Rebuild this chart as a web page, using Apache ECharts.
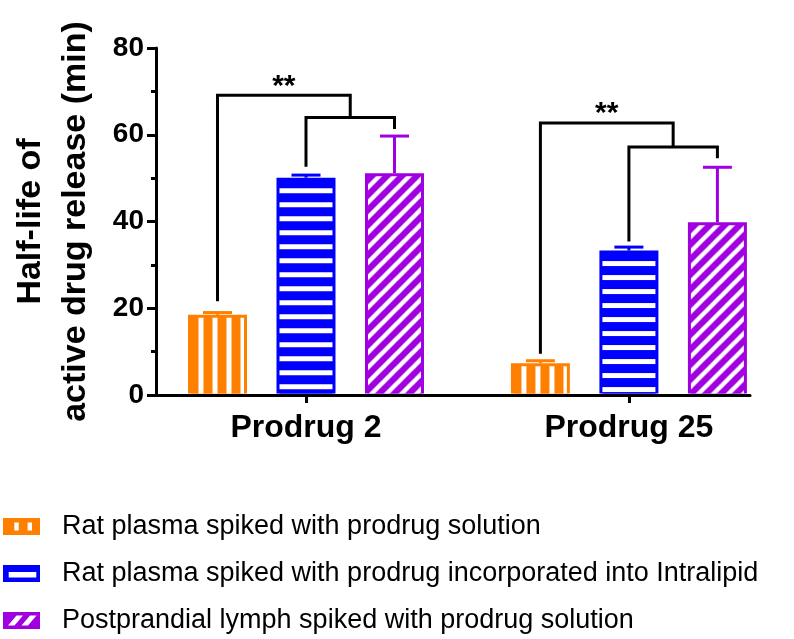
<!DOCTYPE html>
<html><head><meta charset="utf-8">
<script src="https://cdn.jsdelivr.net/npm/echarts@6/dist/echarts.min.js"></script>
<style>html,body{margin:0;padding:0;background:#fff}#c{width:794px;height:639px}</style>
</head><body><div id="c"></div>
<script>
// ---------- data ----------
const categories = ['Prodrug 2', 'Prodrug 25'];
const seriesNames = [
  'Rat plasma spiked with prodrug solution',
  'Rat plasma spiked with prodrug incorporated into Intralipid',
  'Postprandial lymph spiked with prodrug solution'
];
const plasmaSolution = [18.5, 7.3];
const plasmaSolutionErr = [0.5, 0.6];
const plasmaIntralipid = [50.1, 33.3];
const plasmaIntralipidErr = [0.6, 0.8];
const lymphSolution = [51.1, 39.8];
const lymphSolutionErr = [8.6, 12.7];
// significance brackets (value levels)
const sigOuterLevel = [69.1, 62.7];
const sigInnerLevel = [64.0, 57.2];
const sigLegOrange = [21.6, 9.5];
const sigLegBlue = [52.6, 35.4];
const sigLegPurple = [61.3, 54.6];
const sigLabels = ['**', '**'];
const yTicks = [0, 20, 40, 60, 80];

// ---------- style ----------
const ORANGE = '#FF8000', BLUE = '#0000FF', PURPLE = '#A000E0';
const FONT = "'Liberation Sans', Arial, Helvetica, sans-serif";
const BAR_W = 59, BAR_STEP = 88.5, BORDER = 3, CAP_W = 29, LINE_W = 3;

function tileCanvas(kind, color) {
  const P = kind === 'd' ? 15 : 14;
  const c = document.createElement('canvas');
  c.width = P; c.height = P;
  const g = c.getContext('2d');
  g.fillStyle = color; g.fillRect(0, 0, P, P);
  g.fillStyle = '#fff';
  if (kind === 'v') g.fillRect(0, 0, 5, P);
  else if (kind === 'h') g.fillRect(0, 0, P, 5);
  else {
    g.strokeStyle = '#fff'; g.lineWidth = 4.4; g.lineCap = 'square';
    g.beginPath();
    g.moveTo(0, P); g.lineTo(P, 0);
    g.moveTo(-P, P); g.lineTo(P, -P);
    g.moveTo(0, 2 * P); g.lineTo(2 * P, 0);
    g.stroke();
  }
  return c;
}

function legendIcon(kind, color) {
  const c = document.createElement('canvas');
  c.width = 54; c.height = 17;
  const g = c.getContext('2d');
  g.fillStyle = color; g.fillRect(0, 0, 37, 17);
  g.fillStyle = '#fff';
  if (kind === 'v') { g.fillRect(11.3, 4.5, 4.4, 8); g.fillRect(24.6, 4.5, 4.4, 8); }
  else if (kind === 'h') { g.fillRect(5.7, 7, 27.6, 5.5); }
  else {
    g.beginPath();
    g.moveTo(5, 13.5); g.lineTo(11.5, 13.5); g.lineTo(20, 3.5); g.lineTo(13.5, 3.5); g.closePath();
    g.moveTo(18.5, 13.5); g.lineTo(25, 13.5); g.lineTo(33.5, 3.5); g.lineTo(27, 3.5); g.closePath();
    g.fill();
  }
  return c.toDataURL();
}

function barRender(sIdx, kind, color) {
  const tile = tileCanvas(kind, color);
  return function (params, api) {
    const x = api.value(0), v = api.value(1);
    const base = api.coord([x, 0]), top = api.coord([x, v]);
    const cx = base[0] + (sIdx - 1) * BAR_STEP;
    const left = cx - BAR_W / 2, bottom = base[1] - 1.5;
    const ix = left + BORDER, iy = top[1] + BORDER, iw = BAR_W - 2 * BORDER, ih = Math.max(0, bottom - iy);
    let px = ix, py = iy;
    if (kind === 'v') px = left + 10.5;
    if (kind === 'h') py = top[1] + 10.5;
    if (kind === 'd') { px = left + 2; py = top[1]; }
    return { type: 'group', children: [
      { type: 'rect', shape: { x: left, y: top[1], width: BAR_W, height: bottom - top[1] }, style: { fill: color } },
      { type: 'rect', shape: { x: ix, y: iy, width: iw, height: ih },
        style: { fill: { image: tile, repeat: 'repeat', x: px, y: py } } }
    ] };
  };
}

function errRender(sIdx, color) {
  return function (params, api) {
    const x = api.value(0), m = api.value(1), e = api.value(2);
    const p0 = api.coord([x, m]), p1 = api.coord([x, m + e]);
    const cx = p0[0] + (sIdx - 1) * BAR_STEP;
    return { type: 'group', children: [
      { type: 'line', shape: { x1: cx, y1: p0[1], x2: cx, y2: p1[1] }, style: { stroke: color, lineWidth: LINE_W } },
      { type: 'line', shape: { x1: cx - CAP_W / 2, y1: p1[1], x2: cx + CAP_W / 2, y2: p1[1] }, style: { stroke: color, lineWidth: LINE_W } }
    ] };
  };
}

function sigRender(params, api) {
  const x = api.value(0);
  const cx = api.coord([x, 0])[0];
  const yv = v => api.coord([x, v])[1];
  const xO = cx - BAR_STEP, xB = cx, xP = cx + BAR_STEP, xJ = (xB + xP) / 2;
  const yOut = yv(api.value(1)), yIn = yv(api.value(2));
  const st = { stroke: '#000', lineWidth: LINE_W, fill: null, lineJoin: 'miter' };
  return { type: 'group', children: [
    { type: 'polyline', shape: { points: [[xO, yv(api.value(3))], [xO, yOut], [xJ, yOut], [xJ, yIn]] }, style: st },
    { type: 'polyline', shape: { points: [[xB, yv(api.value(4))], [xB, yIn], [xP, yIn], [xP, yv(api.value(5))]] }, style: st },
    { type: 'text', style: { text: sigLabels[params.dataIndex], x: (xO + xJ) / 2, y: yOut - 9,
      fontSize: 30, fontWeight: 'bold', fontFamily: FONT, align: 'center', verticalAlign: 'middle', fill: '#000' } }
  ] };
}

const xs = categories.map((c, i) => i + 1);
const mk = (vals, errs) => xs.map((x, i) => errs ? [x, vals[i], errs[i]] : [x, vals[i]]);
const kinds = ['v', 'h', 'd'];
const colors = [ORANGE, BLUE, PURPLE];
const vals = [plasmaSolution, plasmaIntralipid, lymphSolution];
const errs = [plasmaSolutionErr, plasmaIntralipidErr, lymphSolutionErr];

const series = [];
seriesNames.forEach((n, i) => {
  series.push({ type: 'custom', name: n, renderItem: barRender(i, kinds[i], colors[i]),
    data: mk(vals[i]), itemStyle: { color: colors[i] }, clip: false, z: 2, encode: { x: 0, y: 1 } });
});
seriesNames.forEach((n, i) => {
  series.push({ type: 'custom', name: 'err' + i, renderItem: errRender(i, colors[i]),
    data: mk(vals[i], errs[i]), clip: false, z: 3, encode: { x: 0, y: [1, 2] } });
});
series.push({ type: 'custom', name: 'sig', renderItem: sigRender, clip: false, z: 4,
  data: xs.map((x, i) => [x, sigOuterLevel[i], sigInnerLevel[i], sigLegOrange[i], sigLegBlue[i], sigLegPurple[i]]),
  encode: { x: 0, y: [1, 2, 3, 4, 5] } });

const chart = echarts.init(document.getElementById('c'), null, { renderer: 'canvas' });
chart.setOption({
  animation: false,
  backgroundColor: '#fff',
  grid: { left: 154, right: 44, top: 48, bottom: 244, containLabel: false },
  xAxis: {
    type: 'value', min: 0.5355, max: 2.375, splitLine: { show: false },
    axisLine: { show: true, lineStyle: { color: '#000', width: 3 } },
    axisTick: { show: true, customValues: xs, length: 8, lineStyle: { color: '#000', width: 3 } },
    axisLabel: { customValues: xs, formatter: v => categories[Math.round(v) - 1], fontSize: 32, fontWeight: 'bold',
      fontFamily: FONT, color: '#000', margin: 17 }
  },
  yAxis: {
    type: 'value', min: yTicks[0], max: yTicks[yTicks.length - 1], interval: yTicks[1] - yTicks[0],
    name: 'Half-life of\nactive drug release (min)', nameLocation: 'middle', nameGap: 58,
    nameTextStyle: { fontSize: 34, fontWeight: 'bold', fontFamily: FONT, color: '#000', lineHeight: 45 },
    axisLine: { show: true, lineStyle: { color: '#000', width: 3 } },
    axisTick: { show: true, length: 9, lineStyle: { color: '#000', width: 3 } },
    minorTick: { show: true, splitNumber: 2, length: 5, lineStyle: { color: '#000', width: 3 } },
    axisLabel: { fontSize: 28, fontWeight: 'bold', fontFamily: FONT, color: '#000', margin: 12 },
    splitLine: { show: false }
  },
  legend: {
    orient: 'vertical', left: 3, top: 513, height: 126, padding: 0, itemWidth: 54, itemHeight: 17, itemGap: 20,
    selectedMode: false,
    textStyle: { fontSize: 27, fontFamily: FONT, color: '#000', lineHeight: 27 },
    data: seriesNames.map((n, i) => ({ name: n, icon: 'image://' + legendIcon(kinds[i], colors[i]) }))
  },
  series: series
});
</script>
</body></html>
